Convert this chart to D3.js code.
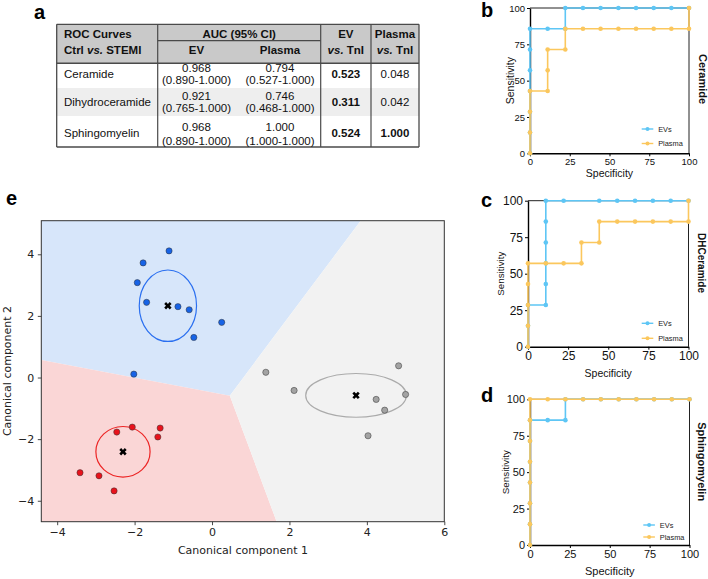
<!DOCTYPE html>
<html><head><meta charset="utf-8">
<script src="https://cdn.jsdelivr.net/npm/d3@7"></script>
<style>body{margin:0;background:#fff}svg{display:block}</style>
</head><body>
<svg id="fig" width="708" height="579"></svg>
<script>
// ---------- DATA ----------
// Table (a)
const tableRows = ["Ceramide", "Dihydroceramide", "Sphingomyelin"];
const evAUC = [0.968, 0.921, 0.968];
const evCI = ["(0.890-1.000)", "(0.765-1.000)", "(0.890-1.000)"];
const plasmaAUC = [0.794, 0.746, 1.000];
const plasmaCI = ["(0.527-1.000)", "(0.468-1.000)", "(1.000-1.000)"];
const evVsTnI = [0.523, 0.311, 0.524];
const plasmaVsTnI = [0.048, 0.042, 1.000];
const plasmaVsTnIBold = [false, false, true];

// ROC curves: [specificity %, sensitivity %]
const rocTicks = [0, 25, 50, 75, 100];
const cerEV = [[0,0],[0,14.3],[0,28.6],[0,42.9],[0,57.1],[0,71.4],[0,85.7],[11.1,85.7],[22.2,85.7],[22.2,100],[33.3,100],[44.4,100],[55.6,100],[66.7,100],[77.8,100],[88.9,100],[100,100]];
const cerPlasma = [[0,0],[0,14.3],[0,28.6],[0,42.9],[11.1,42.9],[11.1,57.1],[11.1,71.4],[22.2,71.4],[22.2,85.7],[33.3,85.7],[44.4,85.7],[55.6,85.7],[66.7,85.7],[77.8,85.7],[88.9,85.7],[100,85.7],[100,100]];
const dhcEV = [[0,0],[0,14.3],[0,28.6],[11.1,28.6],[11.1,42.9],[11.1,57.1],[11.1,71.4],[11.1,85.7],[11.1,100],[22.2,100],[44.4,100],[55.6,100],[66.7,100],[77.8,100],[88.9,100],[100,100]];
const dhcPlasma = [[0,0],[0,14.3],[0,28.6],[0,42.9],[0,57.1],[11.1,57.1],[22.2,57.1],[33.3,57.1],[33.3,71.4],[44.4,71.4],[44.4,85.7],[55.6,85.7],[66.7,85.7],[77.8,85.7],[88.9,85.7],[100,85.7],[100,100]];
const smEV = [[0,0],[0,14.3],[0,28.6],[0,42.9],[0,57.1],[0,71.4],[0,85.7],[11.1,85.7],[22.2,85.7],[22.2,100],[33.3,100],[44.4,100],[55.6,100],[66.7,100],[77.8,100],[88.9,100],[100,100]];
const smPlasma = [[0,0],[0,14.3],[0,28.6],[0,42.9],[0,57.1],[0,71.4],[0,85.7],[0,100],[11.1,100],[22.2,100],[33.3,100],[44.4,100],[55.6,100],[66.7,100],[77.8,100],[88.9,100],[100,100]];

// Canonical plot (e)
const ccXTicks = [-4, -2, 0, 2, 4, 6];
const ccYTicks = [-4, -2, 0, 2, 4];
const blueX = [-1.11, -1.78, -1.93, -1.69, -0.88, -0.59, 0.25, -0.47, -2.02];
const blueY = [4.11, 3.72, 3.08, 2.44, 2.30, 2.20, 1.79, 1.30, 0.11];
const redX = [-2.06, -2.46, -1.34, -1.40, -3.41, -2.92, -2.53];
const redY = [-1.61, -1.77, -1.64, -1.93, -3.09, -3.19, -3.68];
const grayX = [1.39, 4.82, 2.12, 4.24, 5.00, 4.46, 4.03];
const grayY = [0.17, 0.38, -0.42, -0.71, -0.55, -1.06, -1.89];
const centroidX = [-1.14, -2.30, 3.72];
const centroidY = [2.33, -2.41, -0.58];
const ellipseRX = [0.74, 0.70, 1.30];
const ellipseRY = [1.16, 0.82, 0.71];
// decision regions (data units)
const blueRegion = [[-4.41,5.09],[3.84,5.09],[0.46,-0.59],[-4.41,0.57]];
const redRegion = [[-4.41,0.57],[0.46,-0.59],[1.67,-4.68],[-4.41,-4.68]];
const grayRegion = [[3.84,5.09],[6.0,5.09],[6.0,-4.68],[1.67,-4.68],[0.46,-0.59]];

// ---------- DRAW ----------
const svg = d3.select("#fig");
const AR = "Liberation Sans, Arial, Helvetica, sans-serif";
const DJ = "DejaVu Sans, sans-serif";
const f3 = d3.format(".3f");

function panelLabel(t, x, y) {
  svg.append("text").attr("x", x).attr("y", y).attr("font-family", AR)
    .attr("font-weight", "bold").attr("font-size", 20).attr("fill", "#000").text(t);
}

// ----- Table -----
(function () {
  const g = svg.append("g");
  const L = 56.7, R = 419, T = 24.3, B = 147;
  const c1 = 157.7, c2 = 320.7, c3 = 371, hMid = 40.7, hB = 63.3;
  const rowB = [63.3, 88, 116, 147];
  g.append("rect").attr("x", L).attr("y", T).attr("width", R - L).attr("height", hB - T).attr("fill", "#c9c9c9");
  g.append("rect").attr("x", L).attr("y", rowB[1]).attr("width", R - L).attr("height", rowB[2] - rowB[1]).attr("fill", "#eeeeee");
  const ln = (x1, y1, x2, y2, w) => g.append("line").attr("x1", x1).attr("y1", y1).attr("x2", x2).attr("y2", y2)
    .attr("stroke", "#4a4a4a").attr("stroke-width", w);
  ln(L, T, R, T, 1.3); ln(L, B, R, B, 1.3); ln(L, T, L, B, 1.3); ln(R, T, R, B, 1.3);
  ln(L, hB, R, hB, 1.6);
  ln(c1, T, c1, B, 1.2); ln(c2, T, c2, B, 1.2); ln(c3, T, c3, B, 1.2);
  ln(c1, hMid, c2, hMid, 1.2);
  const fs = 11.5;
  const txt = (x, y, anchor, bold) => g.append("text").attr("x", x).attr("y", y).attr("text-anchor", anchor)
    .attr("dominant-baseline", "central").attr("font-family", AR).attr("font-size", fs)
    .attr("font-weight", bold ? "bold" : "normal").attr("fill", "#111");
  const y1 = 33.5, y2 = 50;
  txt(64, y1, "start", true).text("ROC Curves");
  const t2 = txt(64, y2, "start", true);
  t2.append("tspan").text("Ctrl ");
  t2.append("tspan").attr("font-style", "italic").text("vs.");
  t2.append("tspan").text(" STEMI");
  txt((c1 + c2) / 2, y1, "middle", true).text("AUC (95% CI)");
  txt(196.5, y2, "middle", true).text("EV");
  txt(280, y2, "middle", true).text("Plasma");
  txt((c2 + c3) / 2, y1, "middle", true).text("EV");
  const t4 = txt((c2 + c3) / 2, y2, "middle", true);
  t4.append("tspan").attr("font-style", "italic").text("vs.");
  t4.append("tspan").text(" TnI");
  txt((c3 + R) / 2, y1, "middle", true).text("Plasma");
  const t5 = txt((c3 + R) / 2, y2, "middle", true);
  t5.append("tspan").attr("font-style", "italic").text("vs.");
  t5.append("tspan").text(" TnI");
  const rowC = [73.8, 102, 133.3];
  const lineA = [67.5, 95.7, 126.5], lineB = [80.2, 108.3, 140.5];
  tableRows.forEach((r, i) => {
    txt(64, rowC[i], "start", false).text(r);
    txt(196.5, lineA[i], "middle", false).text(f3(evAUC[i]));
    txt(196.5, lineB[i], "middle", false).text(evCI[i]);
    txt(280, lineA[i], "middle", false).text(f3(plasmaAUC[i]));
    txt(280, lineB[i], "middle", false).text(plasmaCI[i]);
    txt((c2 + c3) / 2, rowC[i], "middle", true).text(f3(evVsTnI[i]));
    txt((c3 + R) / 2, rowC[i], "middle", plasmaVsTnIBold[i]).text(f3(plasmaVsTnI[i]));
  });
})();
panelLabel("a", 34, 19);

// ----- ROC panels -----
const EVC = "#5ec6f5", PLC = "#fbc75d";
function roc(cfg) {
  const g = svg.append("g");
  const x = d3.scaleLinear([0, 100], [cfg.x0, cfg.x1]);
  const y = d3.scaleLinear([0, 100], [cfg.yb, cfg.yt]);
  // frame top/right
  g.append("path").attr("d", `M${cfg.x0},${cfg.yt}H${cfg.x1}V${cfg.yb}`).attr("fill", "none")
    .attr("stroke", "#222").attr("stroke-width", 1);
  const ax = g.append("g").attr("transform", `translate(0,${cfg.yb})`)
    .call(d3.axisBottom(x).tickValues(rocTicks).tickSize(3).tickSizeOuter(0).tickPadding(2));
  const ay = g.append("g").attr("transform", `translate(${cfg.x0},0)`)
    .call(d3.axisLeft(y).tickValues(rocTicks).tickSize(3).tickSizeOuter(0).tickPadding(2));
  [ax, ay].forEach(a => {
    a.select(".domain").attr("stroke", "#000").attr("stroke-width", 1.4);
    a.selectAll(".tick line").attr("stroke", "#000").attr("stroke-width", 1);
    a.selectAll("text").attr("font-family", AR).attr("font-size", cfg.tfs).attr("fill", "#111");
  });
  const line = d3.line().x(d => x(d[0])).y(d => y(d[1]));
  const series = [[cfg.ev, EVC], [cfg.pl, PLC]];
  series.forEach(([data, col]) => {
    g.append("path").datum(data).attr("d", line).attr("fill", "none").attr("stroke", col).attr("stroke-width", 1.6);
    g.selectAll(null).data(data).join("circle").attr("cx", d => x(d[0])).attr("cy", d => y(d[1]))
      .attr("r", 2.3).attr("fill", col);
  });
  g.append("text").attr("transform", `translate(${cfg.sx},${(cfg.yt + cfg.yb) / 2}) rotate(-90)`)
    .attr("text-anchor", "middle").attr("dominant-baseline", "central").attr("font-family", AR)
    .attr("font-size", cfg.lfs).attr("fill", "#111").text("Sensitivity");
  g.append("text").attr("x", (cfg.x0 + cfg.x1) / 2).attr("y", cfg.spy)
    .attr("text-anchor", "middle").attr("dominant-baseline", "central").attr("font-family", AR)
    .attr("font-size", cfg.xfs).attr("fill", "#111").text("Specificity");
  g.append("text").attr("transform", `translate(${cfg.rx},${cfg.ry}) rotate(90)`)
    .attr("text-anchor", "middle").attr("dominant-baseline", "central").attr("font-family", AR)
    .attr("font-weight", "bold").attr("font-size", cfg.rfs).attr("fill", "#111").text(cfg.name);
  // legend
  [["EVs", EVC, cfg.ly1], ["Plasma", PLC, cfg.ly2]].forEach(([t, col, ly]) => {
    g.append("line").attr("x1", cfg.lx).attr("x2", cfg.lx + 11.6).attr("y1", ly).attr("y2", ly)
      .attr("stroke", col).attr("stroke-width", 1.4);
    g.append("circle").attr("cx", cfg.lx + 5.8).attr("cy", ly).attr("r", 2).attr("fill", col);
    g.append("text").attr("x", cfg.lx + 16.5).attr("y", ly).attr("dominant-baseline", "central")
      .attr("font-family", AR).attr("font-size", 7.4).attr("fill", "#222").text(t);
  });
  panelLabel(cfg.label, cfg.px, cfg.py);
}
roc({x0: 530, x1: 689, yt: 8, yb: 153.3, tfs: 9.5, lfs: 10.5, xfs: 10.5, sx: 510, spy: 173, rx: 702.5, ry: 79, rfs: 11,
     name: "Ceramide", ev: cerEV, pl: cerPlasma, lx: 641.7, ly1: 129, ly2: 143.5, label: "b", px: 481, py: 17});
roc({x0: 528, x1: 688.5, yt: 200.7, yb: 346.7, tfs: 12, lfs: 9.8, xfs: 10.5, sx: 500, spy: 373, rx: 701.5, ry: 263, rfs: 10,
     name: "DHCeramide", ev: dhcEV, pl: dhcPlasma, lx: 641.7, ly1: 323.3, ly2: 338.3, label: "c", px: 481, py: 207});
roc({x0: 530, x1: 689.5, yt: 399.3, yb: 545, tfs: 11, lfs: 9.8, xfs: 11, sx: 505, spy: 571, rx: 701.5, ry: 461.7, rfs: 11,
     name: "Sphingomyelin", ev: smEV, pl: smPlasma, lx: 643.3, ly1: 525, ly2: 537, label: "d", px: 481, py: 402});

// ----- Canonical plot (e) -----
(function () {
  const g = svg.append("g");
  const xs = d3.scaleLinear([-4.41, 6.0], [41.3, 444.3]);
  const ys = d3.scaleLinear([-4.68, 5.09], [521.7, 220.7]);
  const poly = pts => "M" + pts.map(p => `${xs(p[0])},${ys(p[1])}`).join("L") + "Z";
  g.append("path").attr("d", poly(blueRegion)).attr("fill", "#d7e6fa");
  g.append("path").attr("d", poly(redRegion)).attr("fill", "#fad6d6");
  g.append("path").attr("d", poly(grayRegion)).attr("fill", "#f2f2f2");
  const groups = [
    {x: blueX, y: blueY, fill: "#1763e6", ec: "#2a6ff0"},
    {x: redX, y: redY, fill: "#e8121c", ec: "#ec2424"},
    {x: grayX, y: grayY, fill: "#a3a3a3", ec: "#ababab"}
  ];
  groups.forEach((gr, i) => {
    g.append("ellipse").attr("cx", xs(centroidX[i])).attr("cy", ys(centroidY[i]))
      .attr("rx", xs(ellipseRX[i]) - xs(0)).attr("ry", ys(0) - ys(ellipseRY[i]))
      .attr("fill", "none").attr("stroke", gr.ec).attr("stroke-width", 1.2);
    g.selectAll(null).data(d3.range(gr.x.length)).join("circle")
      .attr("cx", j => xs(gr.x[j])).attr("cy", j => ys(gr.y[j])).attr("r", 3.1)
      .attr("fill", gr.fill).attr("stroke", "#333").attr("stroke-width", 0.5);
  });
  const xsym = d3.symbol().type(d3.symbolCross).size(34);
  centroidX.forEach((cx, i) => {
    g.append("path").attr("d", xsym()).attr("fill", "#000")
      .attr("transform", `translate(${xs(cx)},${ys(centroidY[i])}) rotate(45)`);
  });
  g.append("rect").attr("x", 41.3).attr("y", 220.7).attr("width", 403).attr("height", 301)
    .attr("fill", "none").attr("stroke", "#333").attr("stroke-width", 1);
  const fmt = d => d < 0 ? "\u2212" + Math.abs(d) : String(d);
  const ax = g.append("g").attr("transform", "translate(0,521.7)")
    .call(d3.axisBottom(xs).tickValues(ccXTicks).tickFormat(fmt).tickSize(3.5).tickSizeOuter(0).tickPadding(3.5));
  const ay = g.append("g").attr("transform", "translate(41.3,0)")
    .call(d3.axisLeft(ys).tickValues(ccYTicks).tickFormat(fmt).tickSize(3.5).tickSizeOuter(0).tickPadding(3.5));
  [ax, ay].forEach(a => {
    a.select(".domain").remove();
    a.selectAll(".tick line").attr("stroke", "#333").attr("stroke-width", 0.9);
    a.selectAll("text").attr("font-family", DJ).attr("font-size", 11).attr("fill", "#222");
  });
  g.append("text").attr("x", 243).attr("y", 550).attr("text-anchor", "middle").attr("dominant-baseline", "central")
    .attr("font-family", DJ).attr("font-size", 11).attr("fill", "#222").text("Canonical component 1");
  g.append("text").attr("transform", "translate(7,371) rotate(-90)").attr("text-anchor", "middle")
    .attr("dominant-baseline", "central").attr("font-family", DJ).attr("font-size", 11).attr("fill", "#222")
    .text("Canonical component 2");
})();
panelLabel("e", 6, 205);
</script>
</body></html>
